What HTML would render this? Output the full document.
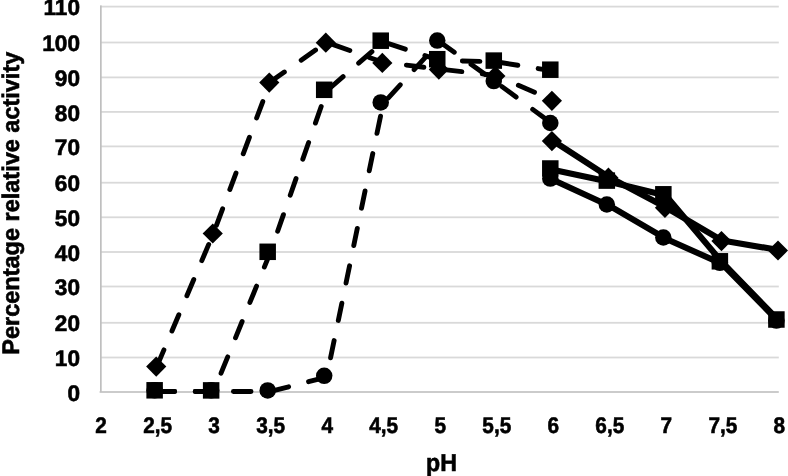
<!DOCTYPE html>
<html><head><meta charset="utf-8"><style>
html,body{margin:0;padding:0;background:#fff;width:788px;height:476px;overflow:hidden}
svg{display:block;will-change:transform}
text{}
text{font-family:"Liberation Sans",sans-serif}
</style></head><body>
<svg width="788" height="476" viewBox="0 0 788 476">
<rect width="788" height="476" fill="#fff"/>
<rect x="100.5" y="5.70" width="678.3" height="1.8" fill="#d9d9d9"/><rect x="100.5" y="41.60" width="678.3" height="1.8" fill="#d9d9d9"/><rect x="100.5" y="76.50" width="678.3" height="1.8" fill="#d9d9d9"/><rect x="100.5" y="111.00" width="678.3" height="1.8" fill="#d9d9d9"/><rect x="100.5" y="145.50" width="678.3" height="1.8" fill="#d9d9d9"/><rect x="100.5" y="181.80" width="678.3" height="1.8" fill="#d9d9d9"/><rect x="100.5" y="216.40" width="678.3" height="1.8" fill="#d9d9d9"/><rect x="100.5" y="251.10" width="678.3" height="1.8" fill="#d9d9d9"/><rect x="100.5" y="285.60" width="678.3" height="1.8" fill="#d9d9d9"/><rect x="100.5" y="321.90" width="678.3" height="1.8" fill="#d9d9d9"/><rect x="100.5" y="356.60" width="678.3" height="1.8" fill="#d9d9d9"/>
<rect x="100.00" y="5.4" width="1.7" height="386.4" fill="#bfbfbf"/><rect x="99.60" y="391.20" width="679.2" height="1.6" fill="#bfbfbf"/>
<g font-family="Liberation Sans, sans-serif" font-weight="bold" font-size="22.6" fill="#000" stroke="#000" stroke-width="0.6" text-rendering="geometricPrecision">
<text transform="translate(80.0,15.20) scale(1,1)" text-anchor="end">110</text><text transform="translate(80.0,51.10) scale(1,1)" text-anchor="end">100</text><text transform="translate(80.0,86.00) scale(1,1)" text-anchor="end">90</text><text transform="translate(80.0,120.50) scale(1,1)" text-anchor="end">80</text><text transform="translate(80.0,155.00) scale(1,1)" text-anchor="end">70</text><text transform="translate(80.0,191.30) scale(1,1)" text-anchor="end">60</text><text transform="translate(80.0,225.90) scale(1,1)" text-anchor="end">50</text><text transform="translate(80.0,260.60) scale(1,1)" text-anchor="end">40</text><text transform="translate(80.0,295.10) scale(1,1)" text-anchor="end">30</text><text transform="translate(80.0,331.40) scale(1,1)" text-anchor="end">20</text><text transform="translate(80.0,366.10) scale(1,1)" text-anchor="end">10</text><text transform="translate(80.0,400.60) scale(1,1)" text-anchor="end">0</text>
<text transform="translate(101.10,432.8) scale(0.92,1)" text-anchor="middle">2</text><text transform="translate(157.62,432.8) scale(0.92,1)" text-anchor="middle">2,5</text><text transform="translate(214.15,432.8) scale(0.92,1)" text-anchor="middle">3</text><text transform="translate(270.68,432.8) scale(0.92,1)" text-anchor="middle">3,5</text><text transform="translate(327.20,432.8) scale(0.92,1)" text-anchor="middle">4</text><text transform="translate(383.73,432.8) scale(0.92,1)" text-anchor="middle">4,5</text><text transform="translate(440.25,432.8) scale(0.92,1)" text-anchor="middle">5</text><text transform="translate(496.78,432.8) scale(0.92,1)" text-anchor="middle">5,5</text><text transform="translate(553.30,432.8) scale(0.92,1)" text-anchor="middle">6</text><text transform="translate(609.82,432.8) scale(0.92,1)" text-anchor="middle">6,5</text><text transform="translate(666.35,432.8) scale(0.92,1)" text-anchor="middle">7</text><text transform="translate(722.88,432.8) scale(0.92,1)" text-anchor="middle">7,5</text><text transform="translate(779.40,432.8) scale(0.92,1)" text-anchor="middle">8</text>
<text transform="translate(441.5,470.7) scale(0.95,1)" text-anchor="middle" font-size="24.4">pH</text>
<text transform="translate(18.5,354.7) rotate(-90)" x="0" y="0" font-size="24" textLength="303" lengthAdjust="spacingAndGlyphs">Percentage relative activity</text>
</g>
<g fill="#000">
<polyline points="157.03,366.10 213.55,233.00 270.07,82.10 326.60,42.20 383.12,62.40 439.65,69.10 496.18,75.50 552.70,100.30" fill="none" stroke="#000" stroke-width="4.9" stroke-linecap="round" stroke-linejoin="round" stroke-dasharray="17.6 20.6"/><polyline points="157.03,391.50 213.55,391.60 270.07,253.00 326.60,91.00 383.12,41.90 439.65,60.40 496.18,61.80 552.70,70.90" fill="none" stroke="#000" stroke-width="4.9" stroke-linecap="round" stroke-linejoin="round" stroke-dasharray="17.6 20.6"/><polyline points="157.03,391.50 213.55,391.50 270.07,391.60 326.60,377.00 383.12,103.60 439.65,41.75 496.18,82.30 552.70,124.20" fill="none" stroke="#000" stroke-width="4.9" stroke-linecap="round" stroke-linejoin="round" stroke-dasharray="17.6 20.6"/>
<polyline points="552.70,140.60 609.22,177.20 665.75,207.30 722.27,240.60 778.80,250.00" fill="none" stroke="#000" stroke-width="6.1" stroke-linecap="round" stroke-linejoin="round"/><polyline points="552.70,169.70 609.22,181.80 665.75,195.50 722.27,262.50 778.80,320.70" fill="none" stroke="#000" stroke-width="6.1" stroke-linecap="round" stroke-linejoin="round"/><polyline points="552.70,179.80 609.22,205.70 665.75,238.70 722.27,264.00 778.80,321.80" fill="none" stroke="#000" stroke-width="6.1" stroke-linecap="round" stroke-linejoin="round"/>
<path d="M156.22 356.50L166.32 366.60L156.22 376.70L146.12 366.60Z"/><path d="M212.75 223.40L222.85 233.50L212.75 243.60L202.65 233.50Z"/><path d="M269.27 72.50L279.38 82.60L269.27 92.70L259.17 82.60Z"/><path d="M325.80 32.60L335.90 42.70L325.80 52.80L315.70 42.70Z"/><path d="M382.32 52.80L392.43 62.90L382.32 73.00L372.22 62.90Z"/><path d="M438.85 59.50L448.95 69.60L438.85 79.70L428.75 69.60Z"/><path d="M495.38 65.90L505.48 76.00L495.38 86.10L485.27 76.00Z"/><path d="M551.90 90.70L562.00 100.80L551.90 110.90L541.80 100.80Z"/><path d="M551.90 131.00L562.00 141.10L551.90 151.20L541.80 141.10Z"/><path d="M608.42 167.60L618.52 177.70L608.42 187.80L598.32 177.70Z"/><path d="M664.95 197.70L675.05 207.80L664.95 217.90L654.85 207.80Z"/><path d="M721.48 231.00L731.58 241.10L721.48 251.20L711.38 241.10Z"/><path d="M778.00 240.40L788.10 250.50L778.00 260.60L767.90 250.50Z"/>
<rect x="146.38" y="382.05" width="16.5" height="16.5"/><rect x="202.90" y="382.15" width="16.5" height="16.5"/><rect x="259.43" y="243.55" width="16.5" height="16.5"/><rect x="315.95" y="81.55" width="16.5" height="16.5"/><rect x="372.48" y="32.45" width="16.5" height="16.5"/><rect x="429.00" y="50.95" width="16.5" height="16.5"/><rect x="485.53" y="52.35" width="16.5" height="16.5"/><rect x="542.05" y="61.45" width="16.5" height="16.5"/><rect x="542.05" y="160.25" width="16.5" height="16.5"/><rect x="598.57" y="172.35" width="16.5" height="16.5"/><rect x="655.10" y="186.05" width="16.5" height="16.5"/><rect x="711.62" y="253.05" width="16.5" height="16.5"/><rect x="768.15" y="311.25" width="16.5" height="16.5"/>
<circle cx="154.62" cy="390.30" r="8.25"/><circle cx="211.15" cy="390.30" r="8.25"/><circle cx="267.68" cy="390.40" r="8.25"/><circle cx="324.20" cy="375.80" r="8.25"/><circle cx="380.73" cy="102.40" r="8.25"/><circle cx="437.25" cy="40.55" r="8.25"/><circle cx="493.78" cy="81.10" r="8.25"/><circle cx="550.30" cy="123.00" r="8.25"/><circle cx="550.30" cy="178.60" r="8.25"/><circle cx="606.82" cy="204.50" r="8.25"/><circle cx="663.35" cy="237.50" r="8.25"/><circle cx="719.88" cy="262.80" r="8.25"/><circle cx="776.40" cy="320.60" r="8.25"/>
</g>
</svg>
</body></html>
